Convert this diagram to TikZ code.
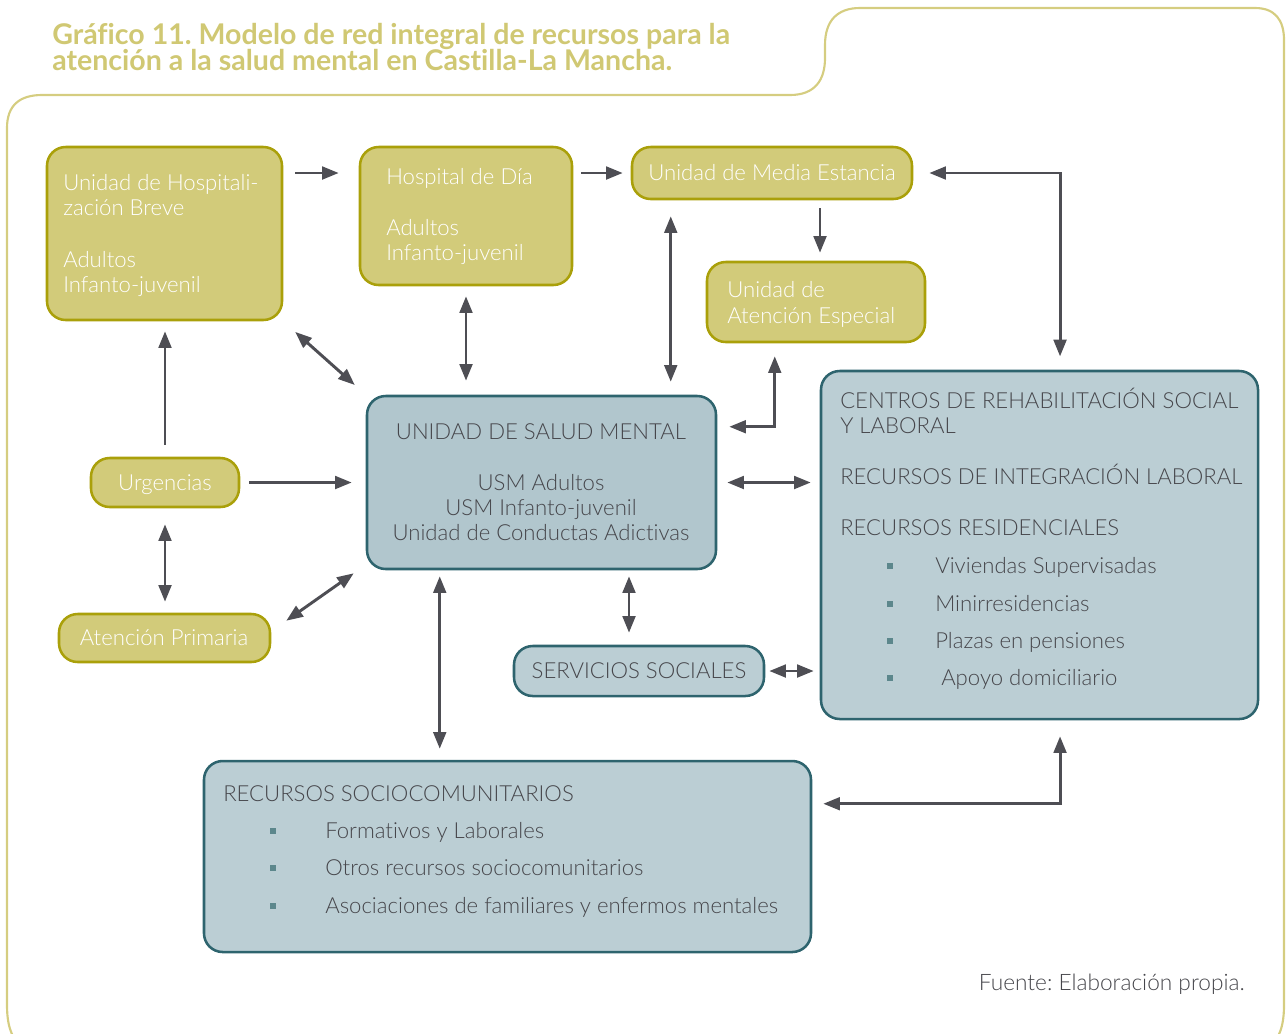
\documentclass[tikz,border=0pt]{standalone}
\usepackage{fontspec}
\setmainfont{Lato}[Ligatures=NoCommon]
\newfontfamily\lightfont{Lato Light}[Ligatures=NoCommon]
\frenchspacing
\usetikzlibrary{arrows.meta,fit,calc}
\definecolor{olivefill}{RGB}{210,203,122}
\definecolor{oliveline}{RGB}{170,160,10}
\definecolor{tealfill}{RGB}{187,206,212}
\definecolor{usmfill}{RGB}{177,198,205}
\definecolor{tealline}{RGB}{46,100,110}
\definecolor{arrc}{RGB}{78,78,84}
\definecolor{darktext}{RGB}{70,70,75}
\definecolor{bulletc}{RGB}{92,135,140}
\definecolor{titlec}{RGB}{208,200,115}
\definecolor{framec}{RGB}{213,205,128}
\tikzset{
  olivebox/.style={draw=oliveline, fill=olivefill, line width=1.9pt, rounded corners=14pt, inner sep=0pt},
  tealbox/.style={draw=tealline, fill=tealfill, line width=1.9pt, rounded corners=14pt, inner sep=0pt},
  txt/.style={font=\lightfont\fontsize{16.6}{19}\selectfont, inner sep=0pt, anchor=base west},
  wtxt/.style={txt, text=white},
  dtxt/.style={txt, text=darktext},
  ctxt/.style={dtxt, anchor=base},
  cwtxt/.style={wtxt, anchor=base},
  bulletsq/.style={fill=bulletc, minimum size=4.6pt, inner sep=0pt},
  title/.style={font=\fontsize{21.4}{24}\selectfont\bfseries, text=titlec, inner sep=0pt, anchor=base west},
  arr/.style={draw=arrc, line width=2.2pt, -{Triangle[length=12.5pt,width=9.5pt]}},
  darr/.style={draw=arrc, line width=2.2pt, {Triangle[length=12.5pt,width=9.5pt]}-{Triangle[length=12.5pt,width=9.5pt]}},
  frame/.style={draw=framec, line width=1.6pt}
}
\begin{document}
\begin{tikzpicture}[x=0.75pt,y=-0.75pt]
\useasboundingbox (0,0) rectangle (1287,1033);
% frame
\draw[frame] (30,1046) .. controls (15,1046) and (7,1032) .. (7,1005) -- (7,128)
  .. controls (7,105) and (20,95) .. (42,95) -- (790,95)
  .. controls (815,95) and (825,80) .. (825,58) -- (825,45)
  .. controls (825,20) and (838,8) .. (860,8) -- (1255,8)
  .. controls (1275,8) and (1284,20) .. (1284,40) -- (1284,1005)
  .. controls (1284,1032) and (1276,1046) .. (1262,1046);
% title
\node[title] (t1) at (52,44) {Gráfico 11. Modelo de red integral de recursos para la};
\node[title] (t2) at (52,70) {atención a la salud mental en Castilla-La Mancha.};
% boxes
\node[olivebox, fit={(47,147)(282,320)}] (uhb) {};
\node[olivebox, fit={(360,147)(572,285)}] (hd) {};
\node[olivebox, fit={(632,147)(912,199)}] (ume) {};
\node[olivebox, fit={(707,262)(925,342)}] (uae) {};
\node[olivebox, fit={(91,458)(239,507)}] (urg) {};
\node[olivebox, fit={(59,614)(270,662)}] (ap) {};
\node[tealbox, fill=usmfill, fit={(367,396)(716,569)}] (usm) {};
\node[tealbox, fit={(514,646)(764,696)}] (ss) {};
\node[tealbox, fit={(821,371)(1258,719)}] (crsl) {};
\node[tealbox, fit={(204,761)(811,952)}] (rs) {};
% texts olive
\node[wtxt] (uhb1) at (63,190) {Unidad de Hospitali-};
\node[wtxt] (uhb2) at (63,215) {zación Breve};
\node[wtxt] (uhb3) at (63,267) {Adultos};
\node[wtxt] (uhb4) at (63,292) {Infanto-juvenil};
\node[wtxt] (hd1) at (386,184) {Hospital de Día};
\node[wtxt] (hd2) at (386,235) {Adultos};
\node[wtxt] (hd3) at (386,260) {Infanto-juvenil};
\node[cwtxt] (ume1) at (772,180) {Unidad de Media Estancia};
\node[wtxt] (uae1) at (727,297) {Unidad de};
\node[wtxt] (uae2) at (727,323) {Atención Especial};
\node[cwtxt] (urg1) at (165,490) {Urgencias};
\node[cwtxt] (ap1) at (164,645) {Atención Primaria};
% texts teal
\node[ctxt] (usm1) at (541,439) {UNIDAD DE SALUD MENTAL};
\node[ctxt] (usm2) at (541,490) {USM Adultos};
\node[ctxt] (usm3) at (541,515) {USM Infanto-juvenil};
\node[ctxt] (usm4) at (541,540) {Unidad de Conductas Adictivas};
\node[ctxt] (ss1) at (639,678) {SERVICIOS SOCIALES};
\node[dtxt] (cr1) at (840,408) {CENTROS DE REHABILITACIÓN SOCIAL};
\node[dtxt] (cr2) at (840,433) {Y LABORAL};
\node[dtxt] (cr3) at (840,484) {RECURSOS DE INTEGRACIÓN LABORAL};
\node[dtxt] (cr4) at (840,535) {RECURSOS RESIDENCIALES};
\node[bulletsq] (cb1) at (890,566) {};
\node[bulletsq] (cb2) at (890,604) {};
\node[bulletsq] (cb3) at (890,641) {};
\node[bulletsq] (cb4) at (890,678) {};
\node[dtxt] (cr5) at (935,573) {Viviendas Supervisadas};
\node[dtxt] (cr6) at (935,611) {Minirresidencias};
\node[dtxt] (cr7) at (935,648) {Plazas en pensiones};
\node[dtxt] (cr8) at (941,685) {Apoyo domiciliario};
\node[dtxt] (rs1) at (223,801) {RECURSOS SOCIOCOMUNITARIOS};
\node[bulletsq] (rb1) at (273,831) {};
\node[bulletsq] (rb2) at (273,868) {};
\node[bulletsq] (rb3) at (273,906) {};
\node[dtxt] (rs2) at (325,838) {Formativos y Laborales};
\node[dtxt] (rs3) at (325,875) {Otros recursos sociocomunitarios};
\node[dtxt] (rs4) at (325,913) {Asociaciones de familiares y enfermos mentales};
\node[dtxt, anchor=base east, font=\lightfont\fontsize{17}{19}\selectfont] (src) at (1245,990) {Fuente: Elaboración propia.};
% connectors
\draw[arr, shorten <=9pt, shorten >=15pt] (uhb.east |- ume.west) -- (hd.west |- ume.west);
\draw[arr, shorten <=6pt, shorten >=6pt] (hd.east |- ume.west) -- (ume.west);
\draw[darr, shorten <=12pt, shorten >=10pt] (ume.east) -| ([xshift=15.4pt]crsl.north);
\draw[arr, shorten <=6pt, shorten >=6pt] ([xshift=3pt]uae.north |- ume.south) -- ([xshift=3pt]uae.north);
\draw[darr, shorten <=12pt, shorten >=9.75pt] ([xshift=30pt]ume.south west) -- ([xshift=30pt]ume.south west |- usm.north);
\draw[darr, shorten <=9.75pt, shorten >=9pt] ([xshift=51.75pt]uae.south west) |- ([yshift=-24pt]usm.north east);
\draw[darr, shorten <=7.5pt, shorten >=6.75pt] (usm.east) -- (usm.east -| crsl.west);
\draw[darr, shorten <=4.5pt, shorten >=9pt] ([xshift=-7.5pt]ss.north |- usm.south) -- ([xshift=-7.5pt]ss.north);
\draw[darr, shorten <=3pt, shorten >=4.5pt] (ss.east) -- (ss.east -| crsl.west);
\draw[darr, shorten <=4.5pt, shorten >=8.25pt] ([xshift=55.5pt]usm.south west) -- ([xshift=55.5pt]usm.south west |- rs.north);
\draw[darr, shorten <=12pt, shorten >=8.25pt] ([xshift=15.4pt]crsl.south) |- ([yshift=-33pt]rs.north east);
\draw[darr, shorten <=7.5pt, shorten >=10.5pt] (hd.south) -- (hd.south |- usm.north);
\draw[darr, shorten <=12pt, shorten >=11pt] (uhb.south east) -- (usm.north west);
\draw[arr, shorten <=9pt, shorten >=7.5pt] (urg.north) -- (urg.north |- uhb.south);
\draw[arr, shorten <=6.75pt, shorten >=10.5pt] (urg.east) -- (urg.east -| usm.west);
\draw[darr, shorten <=12pt, shorten >=8.25pt] (urg.south) -- (urg.south |- ap.north);
\draw[darr] ([shift={(11.25pt,-6pt)}]ap.north east) -- ([shift={(-9pt,-2.25pt)}]usm.south west);
\end{tikzpicture}
\end{document}
